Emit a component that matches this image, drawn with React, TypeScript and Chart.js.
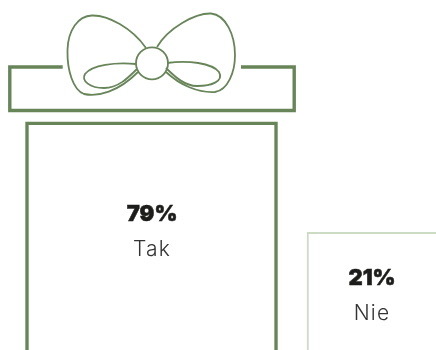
import React, { useEffect, useRef } from "react";
import { Chart, registerables } from "chart.js";

Chart.register(...registerables);

const categories = ["Tak", "Nie"];
const shares = [79, 21];
const boxColors = ["#68855a", "#cddbc5"];
const boxBorders = [3.5, 2];
const labelDrops = [92, 45.5];

const AXIS_MIN = -40.7;
const AXIS_MAX = 143.0;
const X_MIN = -0.5382;
const X_MAX = 1.0106;
const GREEN = "#68855a";

// Lid of the gift box with a gap for the bow, drawn above the tallest bar.
const lidPath = "M62.7,67 L9.8,67 L9.8,110.5 L294.2,110.5 L294.2,67 L241,67";
const bowPaths = [
  "M146,48 C132,28 108,15 92,15.5 C78,16 68,30 67.5,50 C67,70 73,90 84,94 C98,97 118,92 138,72",
  "M157,47 C168,28 195,13 211,13.5 C226,15 235,35 235,55 C235,72 228,90 215,92 C198,93 180,85 166,72",
  "M136,64 C115,62 92,65 85,74 C81,81 90,88 104,88 C118,88 128,78 137,69",
  "M167,63 C188,60 212,63 219,72 C224,81 212,86 197,86 C185,86 175,77 166,68",
];

const giftLid = {
  id: "giftLid",
  afterDatasetsDraw(chart: any) {
    const { ctx } = chart;
    ctx.save();
    ctx.strokeStyle = GREEN;
    ctx.lineWidth = 3.4;
    ctx.stroke(new Path2D(lidPath));
    ctx.lineWidth = 1.8;
    bowPaths.forEach((d) => ctx.stroke(new Path2D(d)));
    ctx.beginPath();
    ctx.arc(152, 63.3, 16, 0, Math.PI * 2);
    ctx.stroke();
    ctx.restore();
  },
};

// Value and category text, centred in the part of each bar that is on the canvas.
const barLabels = {
  id: "barLabels",
  afterDatasetsDraw(chart: any) {
    const { ctx, width } = chart;
    const bars = chart.getDatasetMeta(0).data;
    ctx.save();
    ctx.textAlign = "center";
    ctx.textBaseline = "middle";
    bars.forEach((bar: any, i: number) => {
      const half = bar.width / 2;
      const cx = (Math.max(0, bar.x - half) + Math.min(width, bar.x + half)) / 2 + 0.5;
      const y = bar.y + labelDrops[i];
      ctx.fillStyle = "#1d1d1b";
      ctx.strokeStyle = "#1d1d1b";
      ctx.lineWidth = 0.5;
      ctx.font = '900 22px Inter, "Noto Sans", sans-serif';
      ctx.fillText(`${shares[i]}%`, cx, y);
      ctx.strokeText(`${shares[i]}%`, cx, y);
      ctx.fillStyle = "#333333";
      ctx.letterSpacing = "1.2px";
      ctx.font = '300 21px Inter, "Noto Sans", sans-serif';
      ctx.fillText(categories[i], cx, y + 36);
      ctx.letterSpacing = "0px";
    });
    ctx.restore();
  },
};

export default function App() {
  const canvasRef = useRef<HTMLCanvasElement>(null);

  useEffect(() => {
    const chart = new Chart(canvasRef.current!, {
      type: "bar",
      data: {
        labels: categories,
        datasets: [
          {
            data: shares.map((y, x) => ({ x, y })),
            base: AXIS_MIN,
            backgroundColor: "#ffffff",
            borderColor: boxColors,
            borderWidth: boxBorders,
            borderSkipped: "bottom",
            barThickness: 252,
          },
        ],
      },
      options: {
        responsive: false,
        animation: false,
        layout: { padding: 0 },
        plugins: { legend: { display: false }, tooltip: { enabled: false } },
        scales: {
          x: { type: "linear", display: false, min: X_MIN, max: X_MAX, offset: false },
          y: { display: false, min: AXIS_MIN, max: AXIS_MAX },
        },
      },
      plugins: [giftLid, barLabels],
    });
    return () => chart.destroy();
  }, []);

  return (
    <div style={{ position: "absolute", left: 0, top: 0, width: 436, height: 350, background: "#ffffff" }}>
      <canvas ref={canvasRef} width={436} height={350} style={{ display: "block" }} />
    </div>
  );
}
